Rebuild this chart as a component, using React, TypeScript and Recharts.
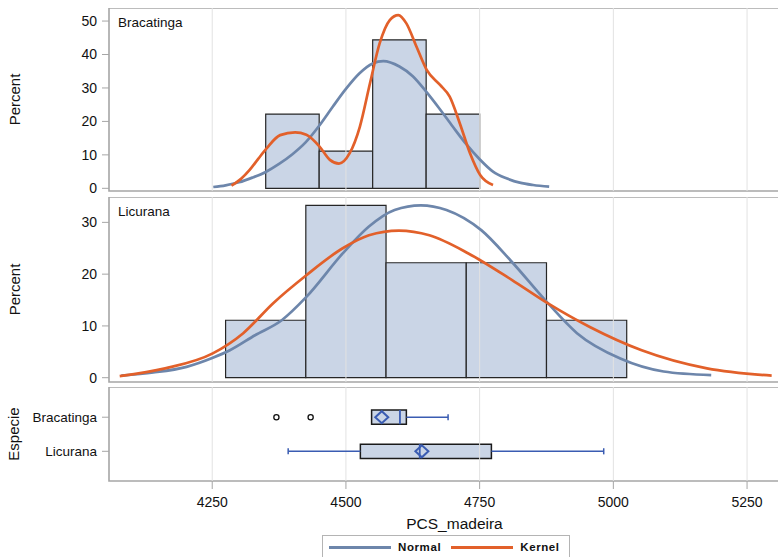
import React from "react";
import {
  ComposedChart,
  Line,
  XAxis,
  YAxis,
  ReferenceArea,
  ReferenceLine,
  Scatter,
} from "recharts";

const font = "'Liberation Sans', Arial, Helvetica, sans-serif";

// Shared PCS_madeira axis
const xTicks = [4250, 4500, 4750, 5000, 5250];
const xDomain: [number, number] = [4057, 5349];

// Histogram bin edges and percent per bin
const bracEdges = [4350, 4450, 4550, 4650, 4750];
const bracPct = [22.2, 11.1, 44.4, 22.2];
const licuEdges = [4275, 4425, 4575, 4725, 4875, 5025];
const licuPct = [11.1, 33.3, 22.2, 22.2, 11.1];

// Fitted density curves as [PCS_madeira, percent]
const bracNormal = [
  [4252, 0.4], [4275, 0.9], [4300, 1.8], [4325, 3.2], [4350, 4.9], [4375, 7.3],
  [4400, 10.2], [4425, 13.8], [4450, 18.7], [4475, 24.3], [4500, 29.7],
  [4525, 34.3], [4550, 37.3], [4570, 38.0], [4600, 36.4], [4625, 33.5],
  [4650, 28.9], [4675, 23.8], [4700, 18.4], [4725, 13.2], [4750, 8.7],
  [4775, 5.0], [4800, 3.0], [4825, 1.7], [4850, 1.0], [4880, 0.5],
];
const bracKernel = [
  [4286, 0.8], [4305, 3.0], [4320, 5.5], [4336, 8.8], [4352, 12.0], [4377, 15.9],
  [4405, 16.7], [4426, 16.0], [4451, 12.4], [4470, 8.5], [4487, 7.4],
  [4507, 10.5], [4526, 18.4], [4545, 31.4], [4563, 43.3], [4582, 50.3],
  [4598, 51.8], [4613, 49.3], [4632, 42.3], [4651, 35.4], [4676, 30.9],
  [4694, 27.4], [4713, 19.4], [4732, 10.5], [4751, 4.0], [4775, 1.0],
];
const licuNormal = [
  [4080, 0.4], [4140, 1.0], [4202, 2.1], [4250, 3.8], [4283, 5.3], [4330, 8.2],
  [4380, 11.1], [4426, 15.6], [4494, 24.0], [4543, 29.2], [4591, 32.4],
  [4640, 33.3], [4688, 32.4], [4753, 28.5], [4810, 22.4], [4875, 14.7],
  [4932, 8.6], [5013, 3.7], [5094, 1.2], [5183, 0.5],
];
const licuKernel = [
  [4077, 0.3], [4162, 1.8], [4251, 4.7], [4308, 8.6], [4364, 14.4],
  [4426, 19.8], [4494, 25.0], [4543, 27.5], [4599, 28.4], [4656, 27.5],
  [4729, 24.0], [4810, 18.9], [4877, 14.4], [4956, 9.8], [5053, 5.3],
  [5175, 1.8], [5296, 0.4],
];

// Box plot summaries, y = 1 (Licurana) and y = 2 (Bracatinga)
const especies = ["Licurana", "Bracatinga"];
const boxLow = [4392, 4548];
const boxQ1 = [4527, 4548];
const boxMedian = [4638, 4601];
const boxQ3 = [4772, 4613];
const boxHigh = [4982, 4691];
const boxMean = [4642, 4567];
const outlierX = [4370, 4434];
const outlierY = [2, 2];

const BLUE_FIT = "#6d86ab";
const ORANGE_FIT = "#e2602a";
const BAR_FILL = "#cad5e6";
const BOX_BLUE = "#3a5cb2";
const FRAME = "#a6a6a6";
const GRID = "#e2e2e2";

const tickStyle = { fontSize: 14, fill: "#111", fontFamily: font };

const toPoints = (arr: number[][]) => arr.map(([v, p]) => ({ v, p }));

const Diamond = (props: any) => {
  const { cx, cy } = props;
  if (cx == null || cy == null) return null;
  return (
    <path
      d={`M${cx - 6.5},${cy} L${cx},${cy - 6} L${cx + 6.5},${cy} L${cx},${cy + 6} Z`}
      fill="none"
      stroke={BOX_BLUE}
      strokeWidth={2}
    />
  );
};

const Circle = (props: any) => {
  const { cx, cy } = props;
  if (cx == null || cy == null) return null;
  return <circle cx={cx} cy={cy} r={2.6} fill="#fff" stroke="#111" strokeWidth={1.3} />;
};

type HistProps = {
  top: number;
  height: number;
  name: string;
  edges: number[];
  pct: number[];
  normal: number[][];
  kernel: number[][];
  yDomain: [number, number];
  yTicks: number[];
};

// extra room below each histogram so the "0" tick label is not clipped
const PAD = 10;

const HistPanel = ({ top, height, name, edges, pct, normal, kernel, yDomain, yTicks }: HistProps) => (
  <div style={{ position: "absolute", left: 0, top }}>
    <ComposedChart
      width={800}
      height={height + PAD}
      margin={{ top: 0, right: 0, bottom: PAD, left: 0 }}
    >
      <XAxis dataKey="v" type="number" domain={xDomain} ticks={xTicks} hide allowDataOverflow />
      <YAxis
        dataKey="p"
        type="number"
        domain={yDomain}
        ticks={yTicks}
        interval={0}
        width={109}
        allowDataOverflow
        axisLine={false}
        tickSize={7}
        tickMargin={5}
        tickLine={{ stroke: FRAME }}
        tick={tickStyle}
        label={{
          value: "Percent",
          angle: -90,
          position: "insideLeft",
          offset: 15,
          fontSize: 15,
          fill: "#111",
          style: { textAnchor: "middle" },
        }}
      />
      {xTicks.map((t) => (
        <ReferenceLine key={t} x={t} stroke={GRID} strokeWidth={1} />
      ))}
      {pct.map((p, i) => (
        <ReferenceArea
          key={i}
          x1={edges[i]}
          x2={edges[i + 1]}
          y1={0}
          y2={p}
          fill={BAR_FILL}
          fillOpacity={1}
          stroke="#262626"
          strokeWidth={1.2}
        />
      ))}
      <Line
        data={toPoints(normal)}
        dataKey="p"
        type="monotone"
        stroke={BLUE_FIT}
        strokeWidth={2.7}
        dot={false}
        isAnimationActive={false}
      />
      <Line
        data={toPoints(kernel)}
        dataKey="p"
        type="monotone"
        stroke={ORANGE_FIT}
        strokeWidth={2.7}
        dot={false}
        isAnimationActive={false}
      />
      <ReferenceArea
        x1={xDomain[0]}
        x2={xDomain[1]}
        y1={yDomain[0]}
        y2={yDomain[1]}
        fill="none"
        stroke={FRAME}
        strokeWidth={1.6}
        ifOverflow="visible"
        label={{ value: name, position: "insideTopLeft", offset: 9, fontSize: 13.5, fill: "#111" }}
      />
    </ComposedChart>
  </div>
);

const boxDomain: [number, number] = [0.129, 2.886];
const boxHalf = 0.21;
const capHalf = 0.09;

const BoxPanel = () => (
  <div style={{ position: "absolute", left: 0, top: 387 }}>
    <ComposedChart width={800} height={170} margin={{ top: 0, right: 0, bottom: 28, left: 0 }}>
      <XAxis
        dataKey="v"
        type="number"
        domain={xDomain}
        ticks={xTicks}
        interval={0}
        height={48}
        allowDataOverflow
        axisLine={false}
        tickSize={8}
        tickMargin={8}
        tickLine={{ stroke: FRAME }}
        tick={tickStyle}
        label={{ value: "PCS_madeira", position: "insideBottom", offset: 0, fontSize: 15.5, fill: "#111" }}
      />
      <YAxis
        dataKey="y"
        type="number"
        domain={boxDomain}
        ticks={[1, 2]}
        interval={0}
        tickFormatter={(t: number) => especies[t - 1]}
        width={109}
        allowDataOverflow
        axisLine={false}
        tickSize={7}
        tickMargin={5}
        tickLine={{ stroke: FRAME }}
        tick={{ ...tickStyle, fontSize: 13.5 }}
        label={{
          value: "Especie",
          angle: -90,
          position: "insideLeft",
          offset: 14,
          fontSize: 15,
          fill: "#111",
          style: { textAnchor: "middle" },
        }}
      />
      {xTicks.map((t) => (
        <ReferenceLine key={t} x={t} stroke={GRID} strokeWidth={1} />
      ))}
      {especies.map((_, i) => {
        const y = i + 1;
        return (
          <React.Fragment key={i}>
            <ReferenceLine segment={[{ x: boxLow[i], y }, { x: boxQ1[i], y }]} stroke={BOX_BLUE} strokeWidth={1.5} />
            <ReferenceLine segment={[{ x: boxQ3[i], y }, { x: boxHigh[i], y }]} stroke={BOX_BLUE} strokeWidth={1.5} />
            {boxLow[i] < boxQ1[i] && (
              <ReferenceLine
                segment={[{ x: boxLow[i], y: y - capHalf }, { x: boxLow[i], y: y + capHalf }]}
                stroke={BOX_BLUE}
                strokeWidth={1.5}
              />
            )}
            <ReferenceLine
              segment={[{ x: boxHigh[i], y: y - capHalf }, { x: boxHigh[i], y: y + capHalf }]}
              stroke={BOX_BLUE}
              strokeWidth={1.5}
            />
            <ReferenceArea
              x1={boxQ1[i]}
              x2={boxQ3[i]}
              y1={y - boxHalf}
              y2={y + boxHalf}
              fill={BAR_FILL}
              fillOpacity={1}
              stroke="#1a1a1a"
              strokeWidth={1.5}
            />
            <ReferenceLine
              segment={[{ x: boxMedian[i], y: y - boxHalf }, { x: boxMedian[i], y: y + boxHalf }]}
              stroke={BOX_BLUE}
              strokeWidth={1.8}
            />
          </React.Fragment>
        );
      })}
      <Scatter
        data={boxMean.map((v, i) => ({ v, y: i + 1 }))}
        shape={<Diamond />}
        isAnimationActive={false}
      />
      <Scatter
        data={outlierX.map((v, i) => ({ v, y: outlierY[i] }))}
        shape={<Circle />}
        isAnimationActive={false}
      />
      <ReferenceArea
        x1={xDomain[0]}
        x2={xDomain[1]}
        y1={boxDomain[0]}
        y2={boxDomain[1]}
        fill="none"
        stroke={FRAME}
        strokeWidth={1.6}
        ifOverflow="visible"
      />
    </ComposedChart>
  </div>
);

const LegendKey = ({ color, label }: { color: string; label: string }) => (
  <div style={{ display: "flex", alignItems: "center" }}>
    <span style={{ width: 62, height: 3, background: color, display: "inline-block" }} />
    <span style={{ marginLeft: 7, fontWeight: 700, fontSize: 11.5, letterSpacing: 0.6, color: "#111" }}>
      {label}
    </span>
  </div>
);

export default function App() {
  return (
    <div
      style={{
        position: "absolute",
        left: 0,
        top: 0,
        width: 778,
        height: 557,
        overflow: "hidden",
        background: "#fff",
        fontFamily: font,
      }}
    >
      <HistPanel
        top={8}
        height={183}
        name="Bracatinga"
        edges={bracEdges}
        pct={bracPct}
        normal={bracNormal}
        kernel={bracKernel}
        yDomain={[-0.8, 53.9]}
        yTicks={[0, 10, 20, 30, 40, 50]}
      />
      <HistPanel
        top={197}
        height={185}
        name="Licurana"
        edges={licuEdges}
        pct={licuPct}
        normal={licuNormal}
        kernel={licuKernel}
        yDomain={[-0.83, 34.9]}
        yTicks={[0, 10, 20, 30]}
      />
      <BoxPanel />
      <div
        style={{
          position: "absolute",
          left: 322,
          top: 535,
          width: 248,
          height: 24,
          border: "1px solid #b4b4b4",
          display: "flex",
          alignItems: "center",
          paddingLeft: 6,
          gap: 10,
          boxSizing: "border-box",
        }}
      >
        <LegendKey color={BLUE_FIT} label="Normal" />
        <LegendKey color={ORANGE_FIT} label="Kernel" />
      </div>
    </div>
  );
}
